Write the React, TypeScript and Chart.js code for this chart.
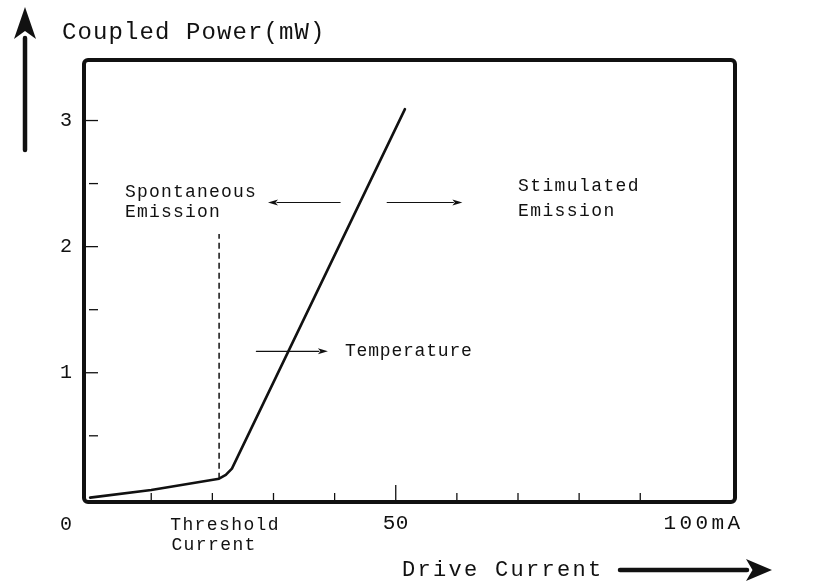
import React, { useEffect, useRef } from "react";
import { Chart, registerables } from "chart.js";

Chart.register(...registerables);

// Curve: coupled power vs drive current
const currentMA = [0, 10, 21.1, 22.2, 23.2, 51.5];
const powerMW = [0.01, 0.07, 0.16, 0.19, 0.24, 3.09];

// Threshold dashed marker
const thresholdX = [21.1, 21.1];
const thresholdY = [0.16, 2.1];

// Axis ticks and labels
const xTickValues = [10, 20, 30, 40, 50, 60, 70, 80, 90];
const xMajorTickValue = 50;
const yTickValues = [0.5, 1, 1.5, 2, 2.5, 3];
const xLabelValues = [50, 100];
const xLabelTexts = ["50", "100mA"];
const yLabelValues = [1, 2, 3];
const yLabelTexts = ["1", "2", "3"];
const originLabel = "0";

// Annotation arrows (data units)
const arrowFromX = [40.9, 48.6, 27.2];
const arrowToX = [29.1, 60.9, 38.9];
const arrowY = [2.35, 2.35, 1.17];

// Annotation texts (data units)
const noteTexts = ["Spontaneous", "Emission", "Stimulated", "Emission", "Temperature", "Threshold", "Current"];
const noteX = [5.7, 5.7, 70.0, 70.0, 41.7, 13.1, 13.3];
const noteY = [2.43, 2.27, 2.48, 2.28, 1.17, -0.21, -0.37];
const noteSpacing = [1.2, 1.2, 1.4, 1.4, 0.8, 1.4, 1.4];

const yAxisTitle = "Coupled Power(mW)";
const xAxisTitle = "Drive Current";

const MONO = "'Liberation Mono', 'DejaVu Sans Mono', monospace";
const INK = "#111";

function drawText(ctx: CanvasRenderingContext2D, text: string, x: number, y: number, size: number, spacing: number, align: CanvasTextAlign = "left") {
  ctx.save();
  ctx.font = `${size}px ${MONO}`;
  (ctx as any).letterSpacing = `${spacing}px`;
  ctx.fillStyle = INK;
  ctx.textBaseline = "middle";
  ctx.textAlign = align;
  ctx.fillText(text, x, y);
  ctx.restore();
}

function drawArrow(ctx: CanvasRenderingContext2D, x1: number, y1: number, x2: number, y2: number, width: number, headLen: number, headHalf: number) {
  const ang = Math.atan2(y2 - y1, x2 - x1);
  const bx = x2 - headLen * Math.cos(ang);
  const by = y2 - headLen * Math.sin(ang);
  ctx.save();
  ctx.strokeStyle = INK;
  ctx.fillStyle = INK;
  ctx.lineWidth = width;
  ctx.lineCap = "round";
  ctx.beginPath();
  ctx.moveTo(x1, y1);
  ctx.lineTo(bx + 1 * Math.cos(ang), by + 1 * Math.sin(ang));
  ctx.stroke();
  ctx.beginPath();
  ctx.moveTo(x2, y2);
  ctx.lineTo(bx - headHalf * Math.sin(ang), by + headHalf * Math.cos(ang));
  ctx.lineTo(bx + headLen * 0.25 * Math.cos(ang), by + headLen * 0.25 * Math.sin(ang));
  ctx.lineTo(bx + headHalf * Math.sin(ang), by - headHalf * Math.cos(ang));
  ctx.closePath();
  ctx.fill();
  ctx.restore();
}

const framePlugin = {
  id: "frame",
  afterDatasetsDraw(chart: any) {
    const ctx: CanvasRenderingContext2D = chart.ctx;
    const { left, right, top, bottom } = chart.chartArea;
    const xs = chart.scales.x;
    const ys = chart.scales.y;

    // frame
    ctx.save();
    ctx.strokeStyle = INK;
    ctx.lineWidth = 4;
    ctx.lineJoin = "round";
    ctx.beginPath();
    (ctx as any).roundRect ? (ctx as any).roundRect(left, top, right - left, bottom - top, 4) : ctx.rect(left, top, right - left, bottom - top);
    ctx.stroke();
    ctx.restore();

    // x ticks (inside, upward)
    ctx.save();
    ctx.strokeStyle = INK;
    ctx.lineWidth = 1.3;
    xTickValues.forEach((v) => {
      const px = xs.getPixelForValue(v);
      const len = v === xMajorTickValue ? 17 : 9;
      ctx.beginPath();
      ctx.moveTo(px, bottom - 2);
      ctx.lineTo(px, bottom - len);
      ctx.stroke();
    });
    // y ticks (inside, rightward)
    yTickValues.forEach((v) => {
      const py = ys.getPixelForValue(v);
      const isInt = Number.isInteger(v);
      ctx.beginPath();
      ctx.moveTo(isInt ? left + 2 : left + 5, py);
      ctx.lineTo(left + 14, py);
      ctx.stroke();
    });
    ctx.restore();

    // tick labels
    xLabelValues.forEach((v, i) => {
      drawText(ctx, xLabelTexts[i], xs.getPixelForValue(v) + (i === 1 ? 2 : 0), bottom + 21, 21, i === 1 ? 3.4 : 0.5, "center");
    });
    yLabelValues.forEach((v, i) => {
      drawText(ctx, yLabelTexts[i], left - 12, ys.getPixelForValue(v), 20, 0, "right");
    });
    drawText(ctx, originLabel, left - 12, bottom + 23, 20, 0, "right");

    // annotation arrows
    arrowFromX.forEach((fx, i) => {
      drawArrow(ctx, xs.getPixelForValue(fx), ys.getPixelForValue(arrowY[i]), xs.getPixelForValue(arrowToX[i]), ys.getPixelForValue(arrowY[i]), 1.2, 10, 3);
    });

    // annotation texts
    noteTexts.forEach((t, i) => {
      drawText(ctx, t, xs.getPixelForValue(noteX[i]), ys.getPixelForValue(noteY[i]), 18, noteSpacing[i], "left");
    });

    // axis titles with arrows (outside the frame)
    drawText(ctx, yAxisTitle, left - 22, top - 27, 24, 1.1, "left");
    drawArrow(ctx, left - 59, top + 90, left - 59, top - 53, 4.5, 32, 11);
    drawText(ctx, xAxisTitle, left + 318, bottom + 68, 22, 2.3, "left");
    drawArrow(ctx, left + 536, bottom + 68, left + 688, bottom + 68, 4.5, 26, 11);
  },
};

export default function App() {
  const canvasRef = useRef<HTMLCanvasElement | null>(null);

  useEffect(() => {
    if (!canvasRef.current) return;
    const chart = new Chart(canvasRef.current, {
      type: "line",
      data: {
        datasets: [
          {
            label: "Coupled Power",
            data: currentMA.map((x, i) => ({ x, y: powerMW[i] })),
            borderColor: INK,
            borderWidth: 2.6,
            pointRadius: 0,
            tension: 0,
            borderJoinStyle: "round",
            borderCapStyle: "round",
          },
          {
            label: "Threshold",
            data: thresholdX.map((x, i) => ({ x, y: thresholdY[i] })),
            borderColor: INK,
            borderWidth: 1.5,
            borderDash: [6, 4],
            pointRadius: 0,
          },
        ],
      },
      options: {
        animation: false,
        responsive: false,
        layout: { padding: { left: 84, top: 60, right: 79, bottom: 83 } },
        plugins: { legend: { display: false }, tooltip: { enabled: false } },
        scales: {
          x: { type: "linear", display: false, min: -1, max: 105.5 },
          y: { type: "linear", display: false, min: -0.025, max: 3.48 },
        },
      },
      plugins: [framePlugin],
    } as any);
    return () => chart.destroy();
  }, []);

  return (
    <div style={{ position: "fixed", left: 0, top: 0, width: 814, height: 585, background: "#fff" }}>
      <canvas ref={canvasRef} width={814} height={585} style={{ display: "block" }} />
    </div>
  );
}
